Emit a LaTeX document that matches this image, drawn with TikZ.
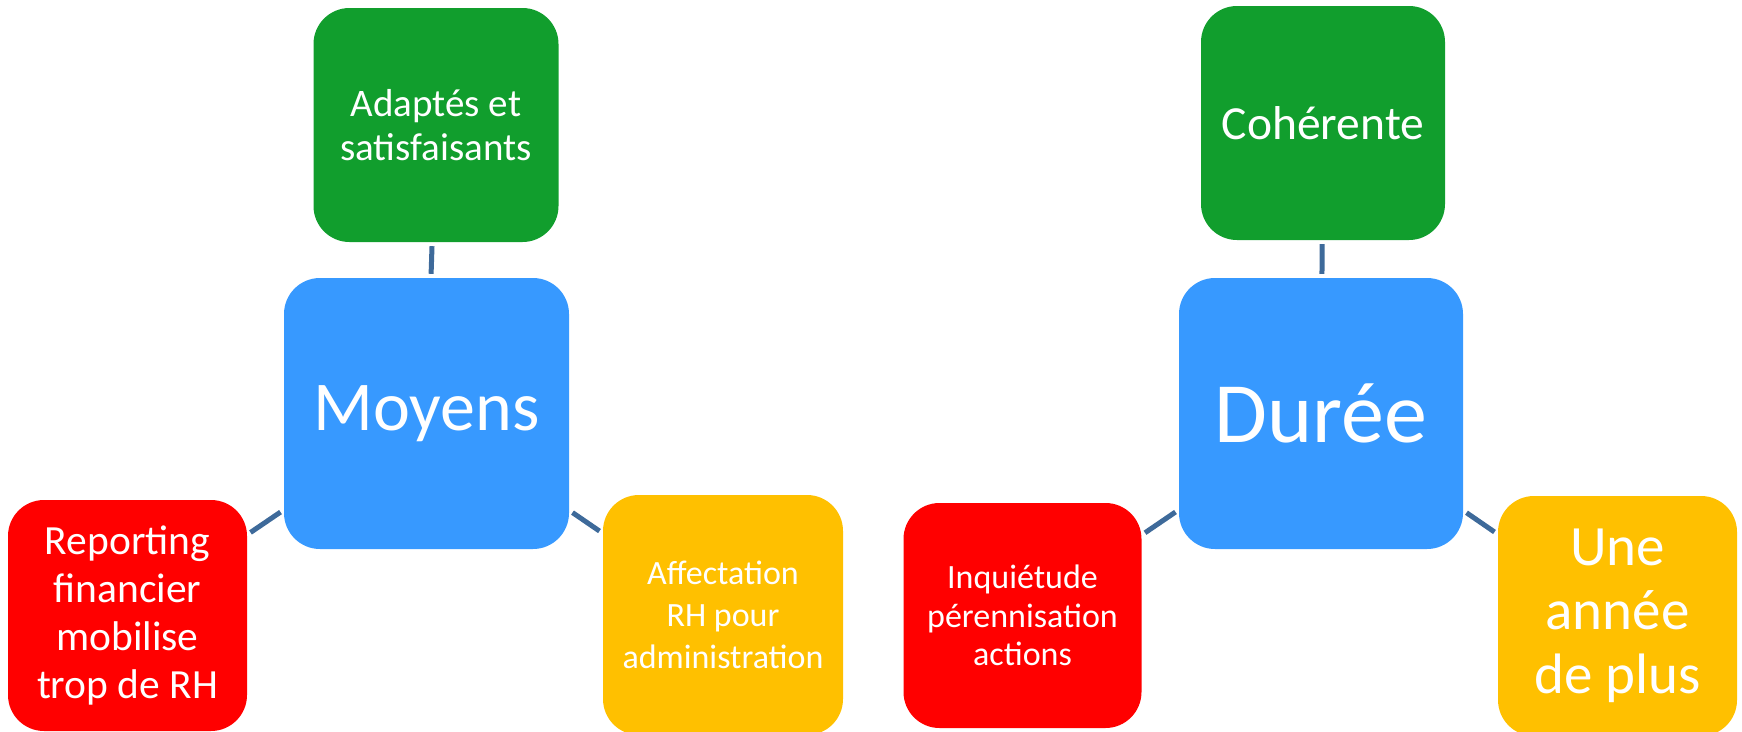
\documentclass[tikz,border=0pt]{standalone}
\usepackage{fontspec}
\setmainfont{Carlito}
\definecolor{cgreen}{HTML}{119E2D}
\definecolor{cblue}{HTML}{3799FF}
\definecolor{cred}{HTML}{FF0000}
\definecolor{cyellow}{HTML}{FFC000}
\definecolor{cline}{HTML}{3E6A9A}
\newcommand{\fs}[2]{\fontsize{#1}{#2}\selectfont}
\tikzset{
  box/.style={rounded corners=36pt, draw=none, text=white, align=center, inner sep=0pt},
  conn/.style={draw=cline, line width=5pt, shorten <=4pt, shorten >=4pt}
}
\begin{document}
\begin{tikzpicture}[x=1pt,y=-1pt]
\useasboundingbox (0,0) rectangle (1742,731);
% left group
\node[box, fill=cgreen, minimum width=245pt, minimum height=234pt, font=\fs{39}{44.5}] (g1) at (436,125) {Adaptés et\\satisfaisants};
\node[box, fill=cblue, minimum width=285pt, minimum height=271pt, font=\fs{70}{77}] (b1) at (426.5,413.5) {Moyens};
\node[box, fill=cred, minimum width=239pt, minimum height=231pt, font=\fs{41.5}{48}] (r1) at (127.5,615.5) {Reporting\\financier\\mobilise\\trop de RH};
\node[box, fill=cyellow, minimum width=240pt, minimum height=240pt, font=\fs{34}{42}] (y1) at (723,615) {Affectation\\RH pour\\administration};
\draw[conn] (b1) -- (g1);
\draw[conn] (b1) -- (r1);
\draw[conn] (b1) -- (y1);
% right group
\node[box, fill=cgreen, minimum width=244pt, minimum height=234pt, font=\fs{47.5}{52}] (g2) at (1323,123) {Cohérente};
\node[box, fill=cblue, minimum width=284pt, minimum height=271pt, font=\fs{86}{95}] (b2) at (1321,413.5) {Durée};
\node[box, fill=cred, minimum width=238pt, minimum height=225pt, font=\fs{34}{38.5}] (r2) at (1022.5,615.5) {Inquiétude\\pérennisation\\actions};
\node[box, fill=cyellow, minimum width=239pt, minimum height=240pt, font=\fs{57}{64}] (y2) at (1617.5,616) {Une\\année\\de plus};
\draw[conn] (b2) -- (g2);
\draw[conn] (b2) -- (r2);
\draw[conn] (b2) -- (y2);
\end{tikzpicture}
\end{document}
